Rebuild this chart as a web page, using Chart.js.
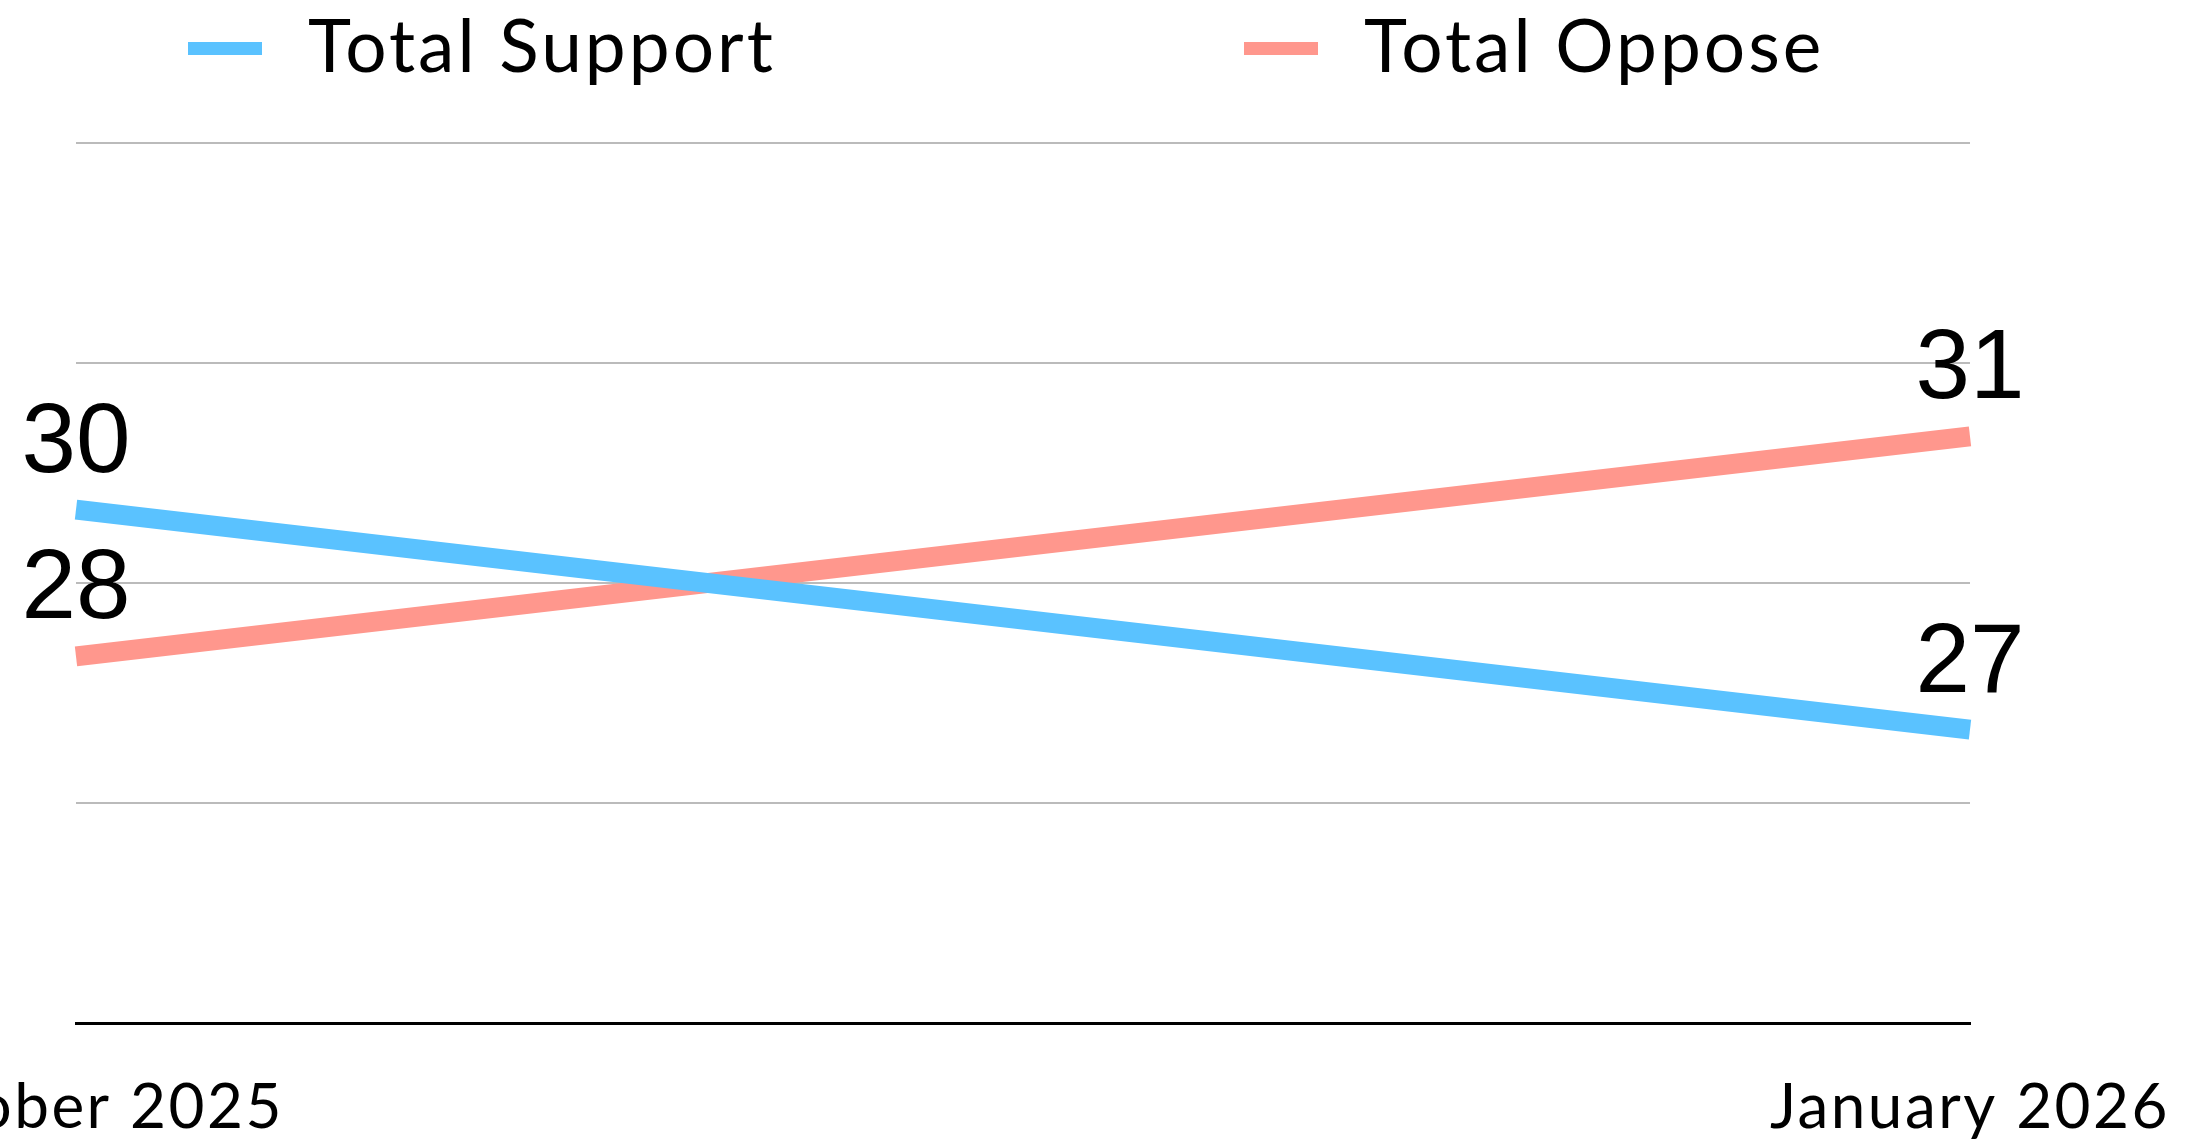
<!DOCTYPE html>
<html>
<head>
<meta charset="utf-8">
<script src="https://cdn.jsdelivr.net/npm/chart.js@4/dist/chart.umd.min.js"></script>
<style>
  html, body { margin: 0; padding: 0; background: #ffffff; }
  #wrap { position: relative; width: 2198px; height: 1140px; }
</style>
</head>
<body>
<div id="wrap"><canvas id="c"></canvas></div>
<script>
// ---- data ----
const categories = ['October 2025', 'January 2026'];
const seriesNames = ['Total Support', 'Total Oppose'];
const supportValues = [30, 27];
const opposeValues = [28, 31];
const yMin = 23;
const yMax = 35;
const yStep = 3;

// ---- styles ----
const supportColor = '#5AC2FF';
const opposeColor = '#FF978D';
const sansFont = 'Lato, "Open Sans", sans-serif';
const labelFont = '"Liberation Sans", Arial, sans-serif';

const spacingPlugin = {
  id: 'tickSpacing',
  beforeDraw(chart) {
    if ('letterSpacing' in chart.ctx) chart.ctx.letterSpacing = '2.5px';
  }
};

const legendPlugin = {
  id: 'customLegend',
  afterDraw(chart, args, opts) {
    const ctx = chart.ctx;
    ctx.save();
    if ('letterSpacing' in ctx) ctx.letterSpacing = '3px';
    chart.data.datasets.forEach((ds, i) => {
      const x = opts.xs[i];
      ctx.fillStyle = ds.borderColor;
      ctx.fillRect(x, opts.boxY, opts.boxW, opts.boxH);
      ctx.fillStyle = '#000000';
      ctx.font = opts.font;
      ctx.textAlign = 'left';
      ctx.textBaseline = 'alphabetic';
      ctx.fillText(ds.label, x + opts.textGap, opts.baseline);
    });
    ctx.restore();
  }
};

const valueLabelPlugin = {
  id: 'valueLabels',
  afterDatasetsDraw(chart, args, opts) {
    const ctx = chart.ctx;
    ctx.save();
    if ('letterSpacing' in ctx) ctx.letterSpacing = '0px';
    ctx.fillStyle = '#000000';
    ctx.font = opts.font;
    ctx.textAlign = 'center';
    ctx.textBaseline = 'alphabetic';
    chart.data.datasets.forEach((ds, i) => {
      const meta = chart.getDatasetMeta(i);
      meta.data.forEach((pt, j) => {
        ctx.fillText(String(ds.data[j]), pt.x, pt.y - opts.offset);
      });
    });
    ctx.restore();
  }
};

new Chart(document.getElementById('c'), {
  type: 'line',
  data: {
    labels: categories,
    datasets: [
      { label: seriesNames[0], data: supportValues, borderColor: supportColor, backgroundColor: supportColor,
        borderWidth: 20, borderCapStyle: 'butt', pointRadius: 0, pointHoverRadius: 0, tension: 0, fill: false },
      { label: seriesNames[1], data: opposeValues, borderColor: opposeColor, backgroundColor: opposeColor,
        borderWidth: 20, borderCapStyle: 'butt', pointRadius: 0, pointHoverRadius: 0, tension: 0, fill: false }
    ]
  },
  options: {
    responsive: true,
    maintainAspectRatio: false,
    animation: false,
    devicePixelRatio: 1,
    layout: { padding: { left: 76, right: 228, top: 143, bottom: 0 } },
    plugins: {
      legend: { display: false },
      tooltip: { enabled: false },
      customLegend: { xs: [188, 1244], boxY: 42, boxW: 74, boxH: 13, textGap: 120, baseline: 72,
        font: '73px ' + sansFont },
      valueLabels: { font: '98px ' + labelFont, offset: 38 }
    },
    scales: {
      x: {
        grid: { display: false, drawTicks: false },
        border: { display: true, color: '#000000', width: 3 },
        ticks: { color: '#000000', font: { family: sansFont, size: 62 }, padding: 48, maxRotation: 0, minRotation: 0, autoSkip: false },
        afterFit(s) { s.paddingLeft = 0; s.paddingRight = 0; s.height = 117; }
      },
      y: {
        min: yMin, max: yMax,
        ticks: { display: false, stepSize: yStep },
        grid: { drawTicks: false, lineWidth: 2,
          color: (c) => (c.tick && c.tick.value === yMin) ? 'rgba(0,0,0,0)' : '#BBBBBB' },
        border: { display: false },
        afterFit(s) { s.width = 0; }
      }
    }
  },
  plugins: [spacingPlugin, legendPlugin, valueLabelPlugin]
});
</script>
</body>
</html>
